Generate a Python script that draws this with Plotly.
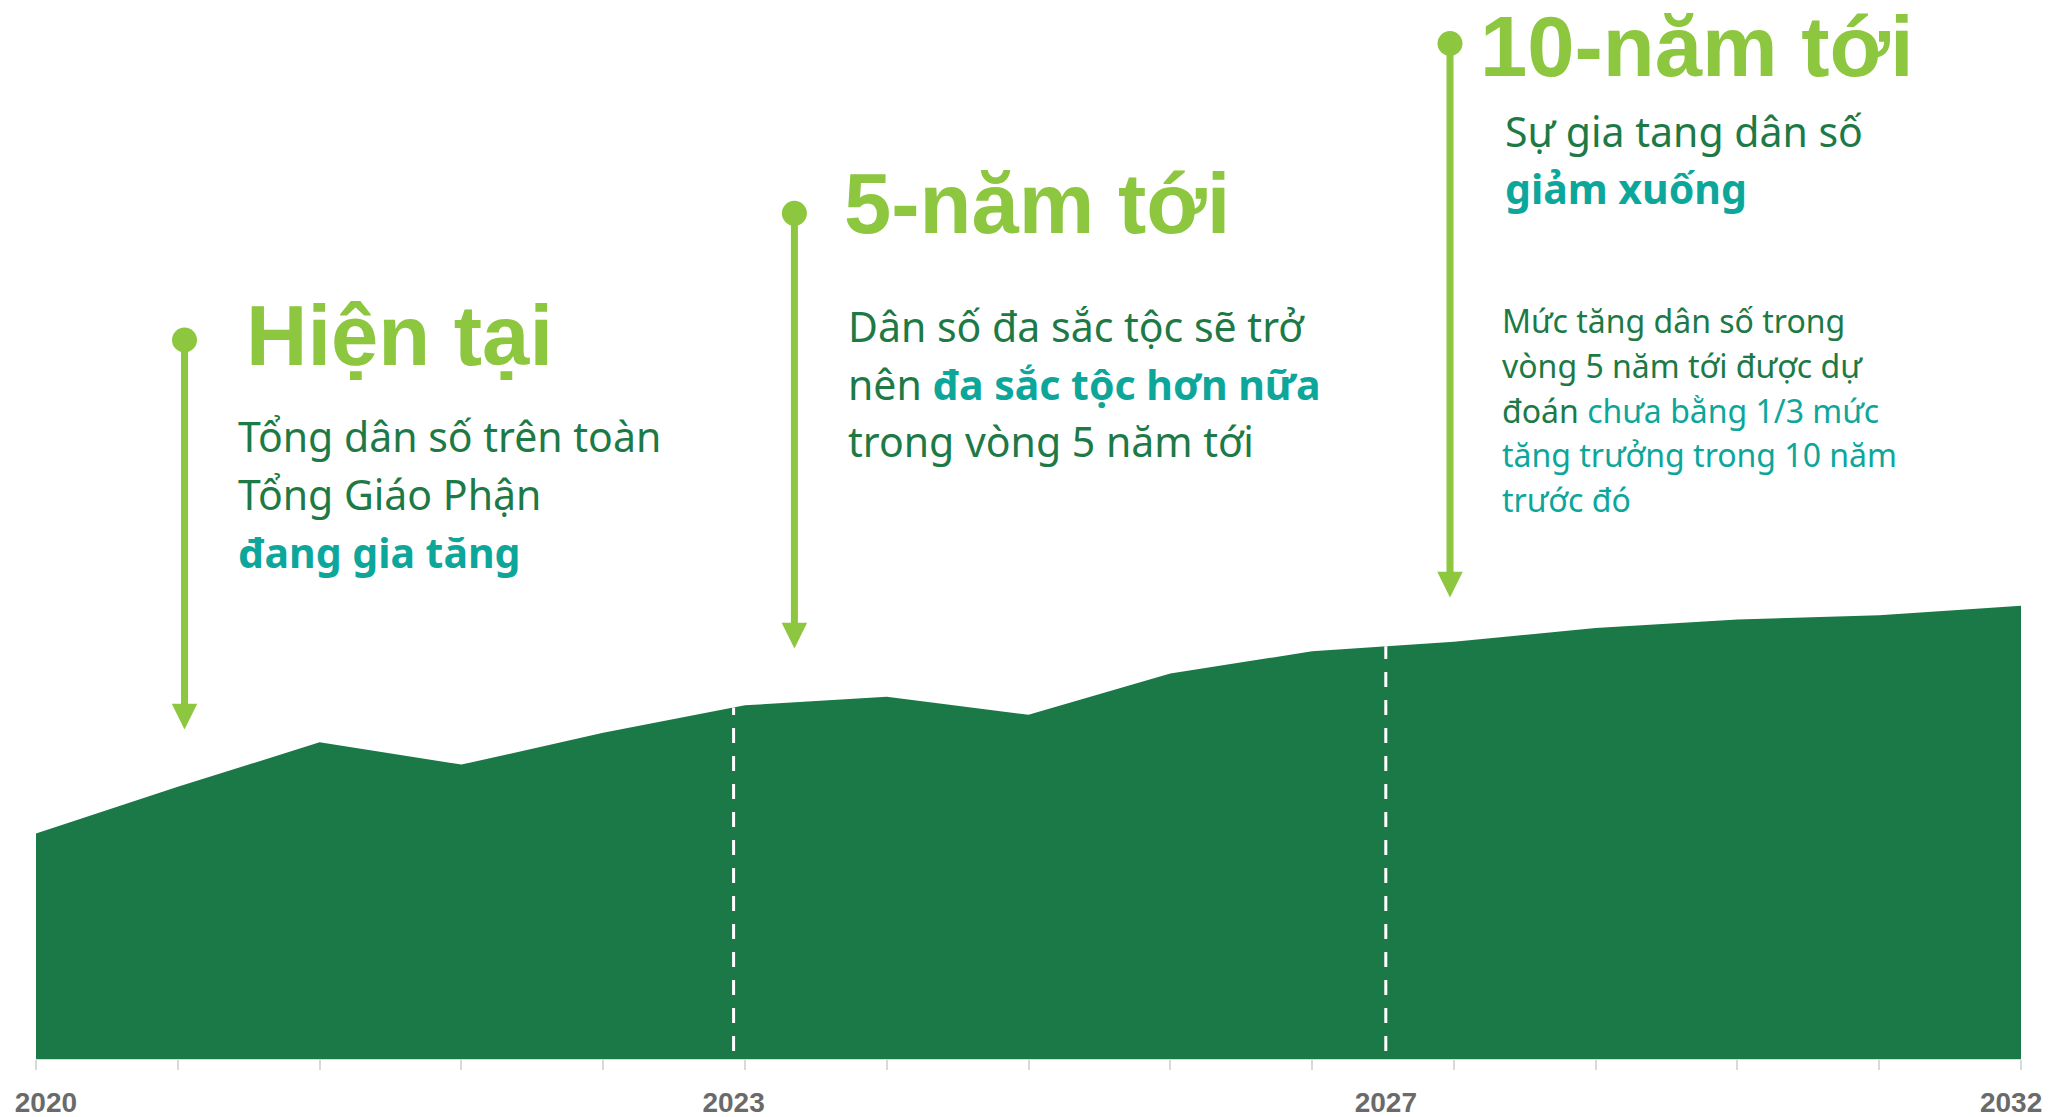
import numpy as np
import plotly.graph_objects as go

# ---------------- data ----------------
period_index = list(range(15))                      # yearly steps on the timeline
population = [213, 257, 299, 278, 308, 334, 342, 325,
              364, 385, 394, 407, 415, 419, 428]    # relative population level
year_labels = ["2020", "2023", "2027", "2032"]
year_label_pos = [0.07, 4.92, 9.52, 13.93]
milestone_pos = [4.92, 9.52]                       # dashed milestone markers

# ---------------- styling ----------------
W, H = 2068, 1117
ML, MR, MT, MB = 36, 47, 0, 58
YMAX = 1000
AREA = "#1B7948"
LIME = "#8DC63F"
DARK = "#1D7A46"
TEAL = "#0DA69B"
HEAD_FONT = "Liberation Sans, Arial, sans-serif"
BODY_FONT = "Noto Sans, Open Sans, sans-serif"


def px_x(px):
    return (px - ML) / (W - ML - MR)


def px_y(py):
    return (H - MB - py) / (H - MT - MB)


fig = go.Figure()

fig.add_trace(go.Scatter(
    x=period_index, y=population, mode="lines",
    line=dict(width=0, color=AREA), fill="tozeroy", fillcolor=AREA,
    hoverinfo="skip", showlegend=False))

for p in milestone_pos:
    top = float(np.interp(p, period_index, population))
    fig.add_trace(go.Scatter(
        x=[p, p], y=[7.6, top], mode="lines",
        line=dict(color="white", width=3, dash="15px,13px"),
        hoverinfo="skip", showlegend=False))

# ---------------- arrows (decorations) ----------------
arrows = [(184.5, 340.0, 729.5), (794.4, 213.3, 648.5), (1450.0, 43.5, 597.5)]
shapes = []
for ax_px, top_px, tip_px in arrows:
    shapes.append(dict(type="line", xref="paper", yref="paper",
                       x0=px_x(ax_px), x1=px_x(ax_px),
                       y0=px_y(top_px), y1=px_y(tip_px - 24),
                       line=dict(color=LIME, width=7)))
    shapes.append(dict(type="circle", xref="paper", yref="paper",
                       xsizemode="pixel", ysizemode="pixel",
                       xanchor=px_x(ax_px), yanchor=px_y(top_px),
                       x0=-12.5, x1=12.5, y0=-12.5, y1=12.5,
                       fillcolor=LIME, line=dict(width=0)))
    shapes.append(dict(type="path", xref="paper", yref="paper",
                       xsizemode="pixel", ysizemode="pixel",
                       xanchor=px_x(ax_px), yanchor=px_y(tip_px),
                       path="M0,0 L-12.75,25.7 L12.75,25.7 Z",
                       fillcolor=LIME, line=dict(width=0)))

# ---------------- text ----------------
annotations = []


def add_text(text, left_px, baseline_px, size, color, family, weight="normal",
             asc=0.388):
    annotations.append(dict(
        text=text, xref="paper", yref="paper",
        x=px_x(left_px), y=px_y(baseline_px - asc * size),
        xanchor="left", yanchor="middle", showarrow=False, borderpad=0,
        font=dict(size=size, color=color, family=family, weight=weight)))


HS = 85
add_text("Hiện tại", 245, 365, HS, LIME, HEAD_FONT, "bold", asc=0.3465)
add_text("5-năm tới", 842.5, 233.3, HS, LIME, HEAD_FONT, "bold", asc=0.3465)
add_text("10-năm tới", 1479, 76, HS, LIME, HEAD_FONT, "bold", asc=0.3465)

BS = 41
add_text("Tổng dân số trên toàn", 237, 451.7, BS, DARK, BODY_FONT)
add_text("Tổng Giáo Phận", 237, 509.6, BS, DARK, BODY_FONT)
add_text("đang gia tăng", 237, 568, BS, TEAL, BODY_FONT, "bold")

add_text("Dân số đa sắc tộc sẽ trở", 847, 341.7, BS, DARK, BODY_FONT)
add_text("nên <b><span style='color:%s'>đa sắc tộc hơn nữa</span></b>" % TEAL,
         847, 399.7, BS, DARK, BODY_FONT)
add_text("trong vòng 5 năm tới", 847, 457.2, BS, DARK, BODY_FONT)

add_text("Sự gia tang dân số", 1504, 146.5, BS, DARK, BODY_FONT)
add_text("giảm xuống", 1504, 204, BS, TEAL, BODY_FONT, "bold")

SS = 32
add_text("Mức tăng dân số trong", 1501, 333, SS, DARK, BODY_FONT)
add_text("vòng 5 năm tới được dự", 1501, 377.8, SS, DARK, BODY_FONT)
add_text("đoán <span style='color:%s'>chưa bằng 1/3 mức</span>" % TEAL,
         1501, 422.5, SS, DARK, BODY_FONT)
add_text("tăng trưởng trong 10 năm", 1501, 467.2, SS, TEAL, BODY_FONT)
add_text("trước đó", 1501, 512, SS, TEAL, BODY_FONT)

fig.update_layout(
    width=W, height=H,
    margin=dict(l=ML, r=MR, t=MT, b=MB, pad=0, autoexpand=False),
    paper_bgcolor="white", plot_bgcolor="white",
    showlegend=False, shapes=shapes, annotations=annotations,
    xaxis=dict(range=[0, 14], showgrid=False, zeroline=False, automargin=False,
               tickmode="array", tickvals=year_label_pos, ticktext=year_labels,
               ticks="", ticklabelstandoff=18,
               tickfont=dict(family=HEAD_FONT, size=28, color="#6A6A6A",
                             weight="bold"),
               showline=True, linecolor="#D9D9D9", linewidth=1,
               minor=dict(tickmode="linear", tick0=0, dtick=1, ticks="outside",
                          ticklen=10, tickwidth=1.5, tickcolor="#D9D9D9",
                          showgrid=False),
               fixedrange=True),
    yaxis=dict(range=[0, YMAX], visible=False, fixedrange=True,
               automargin=False),
)

fig.write_html(
    "out.html",
    config={"displayModeBar": False},
    post_script="document.body.style.margin='0px';"
                "document.body.style.overflow='hidden';")
